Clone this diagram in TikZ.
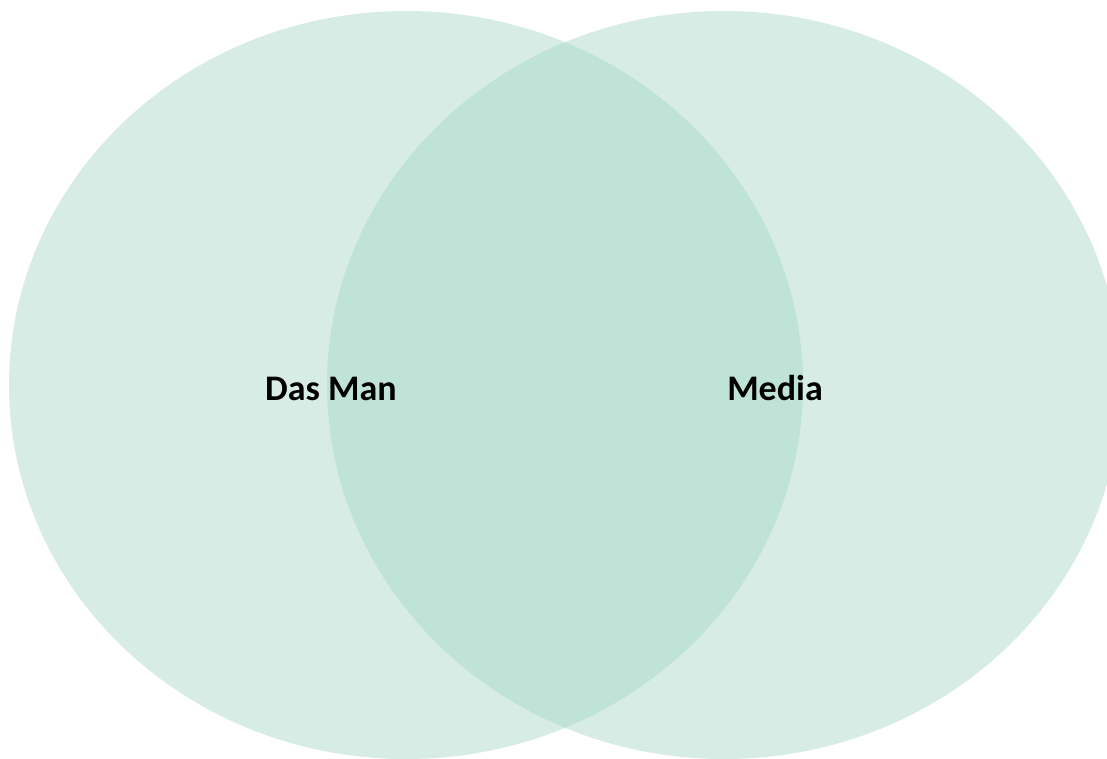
\documentclass[tikz,border=0pt]{standalone}
\usepackage{fontspec}
\setmainfont{Carlito}
\definecolor{vennlight}{RGB}{214,236,229}
\definecolor{venndark}{RGB}{192,227,216}
\tikzset{
  label/.style={font=\bfseries\fontsize{36}{40}\selectfont, text=black, inner sep=0pt, anchor=base},
}
\begin{document}
\begin{tikzpicture}[x=1pt,y=-1pt]
\useasboundingbox (0,0) rectangle (1107,758);
\fill[vennlight] (406,385) ellipse [x radius=397, y radius=374];
\fill[vennlight] (724,385) ellipse [x radius=397, y radius=374];
\begin{scope}
  \clip (406,385) ellipse [x radius=397, y radius=374];
  \fill[venndark] (724,385) ellipse [x radius=397, y radius=374];
\end{scope}
\node[label] (dasman) at (331,400) {Das Man};
\node[label] (media) at (775,400) {Media};
\end{tikzpicture}
\end{document}
